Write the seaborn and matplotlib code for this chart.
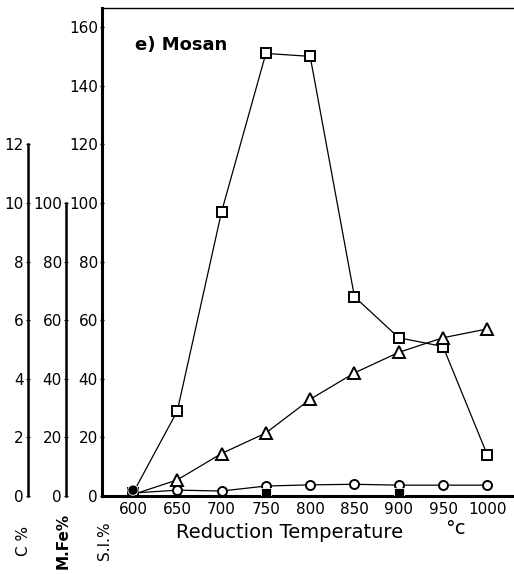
import matplotlib
matplotlib.use("Agg")
import matplotlib.pyplot as plt
import seaborn as sns
import pandas as pd

temps = [600, 650, 700, 750, 800, 850, 900, 950, 1000]
si_pct = [1, 29, 97, 151, 150, 68, 54, 51, 14]          # squares, S.I.% axis
mfe_pct = [0.5, 5.5, 14.5, 21.5, 33, 42, 49, 54, 57]    # triangles, M.Fe% axis
c_pct = [0.1, 0.2, 0.17, 0.34, 0.38, 0.4, 0.37, 0.37, 0.37]  # circles, C% axis
filled_t = [600, 750, 900]
filled_v = [2, 1, 1]

si_ticks = [0, 20, 40, 60, 80, 100, 120, 140, 160]
mfe_ticks = [0, 20, 40, 60, 80, 100]
c_ticks = [0, 2, 4, 6, 8, 10, 12]
x_ticks = temps

sns.set_style("white")
plt.rcParams['font.family'] = ['DejaVu Sans']
plt.rcParams['text.color'] = 'black'
plt.rcParams['xtick.color'] = 'black'
plt.rcParams['ytick.color'] = 'black'

W, H = 514, 574
fig = plt.figure(figsize=(W / 100, H / 100), dpi=100)
left, right, bottom, top = 102, 513, 496, 8
ax = fig.add_axes([left / W, (H - bottom) / H, (right - left) / W, (bottom - top) / H])

YMAX = 166.5
ax.set_xlim(565, 1029)
ax.set_ylim(0, YMAX)

df = pd.DataFrame({"t": temps, "si": si_pct, "mfe": mfe_pct, "c": [v * 10 for v in c_pct]})
lw = 0.9
ms = 6.5
sns.lineplot(data=df, x="t", y="si", ax=ax, color="black", lw=lw, marker="s",
             markersize=ms, markerfacecolor="white", markeredgecolor="black", markeredgewidth=1.4)
sns.lineplot(data=df, x="t", y="mfe", ax=ax, color="black", lw=lw, marker="^",
             markersize=ms + 1.5, markerfacecolor="white", markeredgecolor="black", markeredgewidth=1.4)
sns.lineplot(data=df, x="t", y="c", ax=ax, color="black", lw=lw, marker="o",
             markersize=ms, markerfacecolor="white", markeredgecolor="black", markeredgewidth=1.4)
fdf = pd.DataFrame({"t": filled_t, "v": filled_v, "m": ["o", "s", "s"]})
sns.scatterplot(data=fdf, x="t", y="v", style="m", markers={"o": "o", "s": "s"},
                color="black", s=55, ax=ax, legend=False, zorder=5)

ax.spines["right"].set_visible(False)
for s in ["left", "bottom", "top"]:
    ax.spines[s].set_color("black")
ax.spines["left"].set_linewidth(2.2)
ax.spines["bottom"].set_linewidth(2.2)
ax.spines["top"].set_linewidth(1.0)

ax.set_xticks(x_ticks)
ax.set_xticklabels([str(t) for t in x_ticks])
ax.set_yticks(si_ticks)
ax.set_yticklabels([str(t) for t in si_ticks])
ax.tick_params(axis="both", labelsize=11, length=3, width=1, direction="inout", pad=1.5)
ax.tick_params(axis="x", length=0, pad=4)
ax.set_xlabel("")
ax.set_ylabel("")

# M.Fe% axis
ax2 = ax.twinx()
ax2.set_ylim(0, YMAX)
for s in ["right", "top", "bottom"]:
    ax2.spines[s].set_visible(False)
ax2.spines["left"].set_visible(True)
ax2.spines["left"].set_position(("axes", (66 - left) / (right - left)))
ax2.spines["left"].set_bounds(0, 100)
ax2.spines["left"].set_linewidth(1.8)
ax2.spines["left"].set_color("black")
ax2.yaxis.set_ticks_position("left")
ax2.set_yticks(mfe_ticks)
ax2.set_yticklabels([str(t) for t in mfe_ticks])
ax2.tick_params(axis="y", labelsize=11, length=3, direction="inout", pad=1.5)

# C% axis
ax3 = ax.twinx()
ax3.set_ylim(0, YMAX / 10)
for s in ["right", "top", "bottom"]:
    ax3.spines[s].set_visible(False)
ax3.spines["left"].set_visible(True)
ax3.spines["left"].set_position(("axes", (28 - left) / (right - left)))
ax3.spines["left"].set_bounds(0, 12)
ax3.spines["left"].set_linewidth(1.8)
ax3.spines["left"].set_color("black")
ax3.yaxis.set_ticks_position("left")
ax3.set_yticks(c_ticks)
ax3.set_yticklabels([str(t) for t in c_ticks])
ax3.tick_params(axis="y", labelsize=11, length=3, direction="inout", pad=1.5)

ax.text(0.08, 0.925, "e) Mosan", transform=ax.transAxes, fontsize=13, fontweight="bold",
        ha="left", va="center", color="black")

fig.text(290 / W, 1 - 532 / H, "Reduction Temperature", fontsize=14, ha="center", va="center",
         fontweight="medium")
fig.text(455 / W, 1 - 529 / H, "°c", fontsize=14, ha="center", va="center")

fig.text(104 / W, 1 - 541 / H, "S.I.%", fontsize=11, rotation=90, ha="center", va="center")
fig.text(63 / W, 1 - 541 / H, "M.Fe%", fontsize=11, rotation=90, ha="center", va="center",
         fontweight="bold")
fig.text(23 / W, 1 - 541 / H, "C %", fontsize=11, rotation=90, ha="center", va="center")

fig.savefig("out.png", dpi=100, facecolor="white")
